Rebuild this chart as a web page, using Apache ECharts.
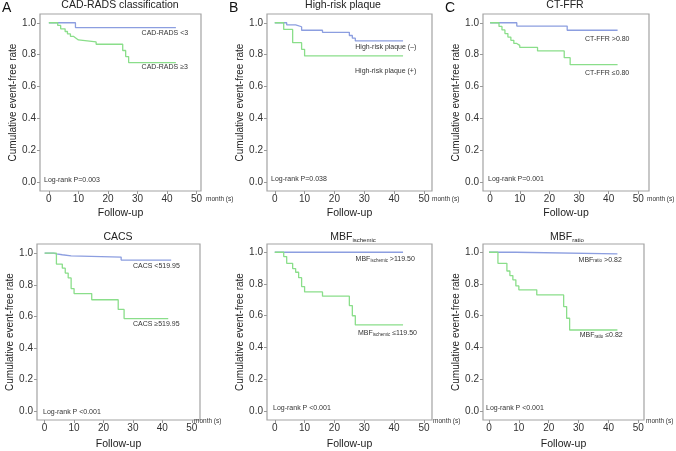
<!DOCTYPE html>
<html><head><meta charset="utf-8">
<script src="https://cdn.jsdelivr.net/npm/echarts@6/dist/echarts.min.js"></script>
<style>html,body{margin:0;padding:0;background:#fff}#c{width:676px;height:451px}</style>
</head><body><div id="c"></div><script>
// ---------- data ----------
const xTicks = [0, 10, 20, 30, 40, 50];
const yTicks = [0, 0.2, 0.4, 0.6, 0.8, 1.0];
const panelLetters = ['A', 'B', 'C'];
const panelTitles = ['CAD-RADS classification', 'High-risk plaque', 'CT-FFR', 'CACS', '{m|MBF}{s|ischemic}', '{m|MBF}{s|ratio}'];
const pValues = ['Log-rank P=0.003', 'Log-rank P=0.038', 'Log-rank P=0.001', 'Log-rank P <0.001', 'Log-rank P <0.001', 'Log-rank P <0.001'];
const lowLabels = ['CAD-RADS <3', 'High-risk plaque (–)', 'CT-FFR >0.80', 'CACS <519.95', '{m|MBF}{s|ischemic}{m| >119.50}', '{m|MBF}{s|ratio}{m| >0.82}'];
const highLabels = ['CAD-RADS ≥3', 'High-risk plaque (+)', 'CT-FFR ≤0.80', 'CACS ≥519.95', '{m|MBF}{s|ischemic}{m| ≤119.50}', '{m|MBF}{s|ratio}{m| ≤0.82}'];

// A: CAD-RADS
const aLowT = [0, 9, 43];
const aLowS = [1, 0.97, 0.97];
const aHighT = [0, 3, 4, 5.5, 6.3, 7.3, 8.3, 9.2, 10, 16, 25, 26, 27, 43];
const aHighS = [1, 0.983, 0.962, 0.945, 0.93, 0.915, 0.903, 0.892, 0.88, 0.865, 0.826, 0.788, 0.75, 0.75];
// B: High-risk plaque
const bLowT = [0, 4, 7, 9, 16, 25, 26, 27, 43];
const bLowS = [1, 0.987, 0.975, 0.953, 0.94, 0.92, 0.903, 0.886, 0.886];
const bHighT = [0, 3, 6, 9, 10, 43];
const bHighS = [1, 0.958, 0.875, 0.833, 0.792, 0.792];
// C: CT-FFR
const cLowT = [0, 9, 26, 43];
const cLowS = [1, 0.979, 0.953, 0.953];
const cHighT = [0, 3, 4, 5, 6, 7, 8, 9, 10, 16, 25, 27, 43];
const cHighS = [1, 0.977, 0.955, 0.932, 0.91, 0.89, 0.87, 0.858, 0.845, 0.823, 0.781, 0.737, 0.737];
// D: CACS
const dLowT = [0, 3, 4, 6, 9, 26, 43];
const dLowS = [1, 0.996, 0.99, 0.983, 0.975, 0.956, 0.956];
const dHighT = [0, 4, 6, 7, 8, 9, 10, 16, 25, 27, 42];
const dHighS = [1, 0.931, 0.905, 0.874, 0.843, 0.776, 0.744, 0.705, 0.644, 0.586, 0.586];
// E: MBF ischemic
const eLowT = [0, 43];
const eLowS = [1, 1];
const eHighT = [0, 3, 4, 6, 7, 8, 9, 10, 16, 25, 26, 27, 43];
const eHighS = [1, 0.973, 0.93, 0.897, 0.874, 0.84, 0.784, 0.75, 0.723, 0.664, 0.60, 0.542, 0.542];
// F: MBF ratio
const fLowT = [0, 9, 43];
const fLowS = [1, 0.99, 0.99];
const fHighT = [0, 3, 6, 7, 8, 9, 10, 16, 25, 26, 27, 43];
const fHighS = [1, 0.93, 0.882, 0.853, 0.826, 0.788, 0.763, 0.731, 0.658, 0.584, 0.51, 0.51];

const lowSeries = [[aLowT, aLowS], [bLowT, bLowS], [cLowT, cLowS], [dLowT, dLowS], [eLowT, eLowS], [fLowT, fLowS]];
const highSeries = [[aHighT, aHighS], [bHighT, bHighS], [cHighT, cHighS], [dHighT, dHighS], [eHighT, eHighS], [fHighT, fHighS]];

// ---------- layout ----------
const FONT = "'Liberation Sans', Arial, Helvetica, sans-serif";
const TXT = '#333';
const BLUE = '#8c9ee0';
const GREEN = '#8ade8a';
const layout = [
  {left: 40, top: 14, width: 161, height: 177, xr: [-3.0, 51.5], yr: [-0.056, 1.055], lowAt: [31.4, 0.937], highAt: [31.4, 0.72], tx: 120, ty: 0, px: 44, py: 177, mx: 206, my: 196},
  {left: 267, top: 14, width: 165, height: 177, xr: [-2.6, 52.7], yr: [-0.056, 1.055], lowAt: [27.0, 0.845], highAt: [26.9, 0.694], tx: 343, ty: 0, px: 271, py: 176, mx: 432, my: 196},
  {left: 483, top: 14, width: 166, height: 177, xr: [-2.4, 53.6], yr: [-0.056, 1.055], lowAt: [32.0, 0.897], highAt: [32.0, 0.684], tx: 565, ty: 0, px: 488, py: 176, mx: 647, my: 196},
  {left: 37, top: 244, width: 163, height: 177, xr: [-2.6, 52.8], yr: [-0.056, 1.058], lowAt: [30.0, 0.916], highAt: [30.0, 0.549], tx: 118, ty: 232, px: 43, py: 409, mx: 194, my: 418},
  {left: 267, top: 244, width: 165, height: 176, xr: [-2.6, 52.7], yr: [-0.057, 1.052], lowAt: [27.1, 0.958], highAt: [27.9, 0.49], tx: 353, ty: 232, px: 273, py: 405, mx: 433, my: 418},
  {left: 483, top: 244, width: 161, height: 176, xr: [-2.0, 51.9], yr: [-0.057, 1.052], lowAt: [30.0, 0.953], highAt: [30.4, 0.48], tx: 567, ty: 232, px: 486, py: 405, mx: 646, my: 418}
];
const letterPos = [[2, 1], [229, 1], [445, 1]];

const rich = {
  m: {fontSize: 7, fontFamily: FONT, color: TXT},
  s: {fontSize: 4.5, fontFamily: FONT, color: TXT, verticalAlign: 'bottom', padding: [3, 0, 0, 0]}
};
const richTitle = {
  m: {fontSize: 10.5, fontFamily: FONT, color: '#222'},
  s: {fontSize: 6, fontFamily: FONT, color: '#222', verticalAlign: 'bottom', padding: [5, 0, 0, 0]}
};

const grids = [], xAxes = [], yAxes = [], series = [], titles = [];
layout.forEach((L, i) => {
  grids.push({left: L.left, top: L.top, width: L.width, height: L.height, show: true, borderColor: '#a3a3a3', borderWidth: 1.2, backgroundColor: '#fff'});
  xAxes.push({
    type: 'value', gridIndex: i, min: L.xr[0], max: L.xr[1],
    name: 'Follow-up', nameLocation: 'middle', nameGap: i < 3 ? 17 : 19,
    nameTextStyle: {fontSize: 10.5, fontFamily: FONT, color: '#222'},
    axisLine: {show: false, onZero: false},
    axisTick: {show: true, length: 3, customValues: xTicks, lineStyle: {color: '#999'}},
    axisLabel: {customValues: xTicks, fontSize: 10, fontFamily: FONT, color: TXT, margin: 3},
    splitLine: {show: false}
  });
  yAxes.push({
    type: 'value', gridIndex: i, min: L.yr[0], max: L.yr[1],
    name: 'Cumulative event-free rate', nameLocation: 'middle', nameGap: 21,
    nameTextStyle: {fontSize: 10, fontFamily: FONT, color: '#222'},
    axisLine: {show: false, onZero: false},
    axisTick: {show: true, length: 3, customValues: yTicks, lineStyle: {color: '#999'}},
    axisLabel: {customValues: yTicks, fontSize: 10, fontFamily: FONT, color: TXT, margin: 4, formatter: v => v.toFixed(1)},
    splitLine: {show: false}
  });
  const mk = (pair, color, at, text) => ({
    type: 'line', xAxisIndex: i, yAxisIndex: i, step: 'end', symbol: 'none',
    lineStyle: {color: color, width: 1.3}, silent: true,
    data: pair[0].map((t, k) => [t, pair[1][k]]),
    markPoint: {
      symbol: 'circle', symbolSize: 0, silent: true,
      data: [{coord: at, label: {show: true, position: 'inside', align: 'left', verticalAlign: 'middle', formatter: text, rich: rich, fontSize: 7, fontFamily: FONT, color: TXT}}]
    }
  });
  series.push(mk(lowSeries[i], BLUE, L.lowAt, lowLabels[i]));
  series.push(mk(highSeries[i], GREEN, L.highAt, highLabels[i]));
  titles.push({text: panelTitles[i], left: L.tx, top: L.ty, textAlign: 'center', padding: 0,
    textStyle: {fontSize: 10.5, fontWeight: 'normal', fontFamily: FONT, color: '#222', rich: richTitle}});
  titles.push({text: pValues[i], left: L.px, top: L.py, padding: 0,
    textStyle: {fontSize: 7, fontWeight: 'normal', fontFamily: FONT, color: TXT}});
  titles.push({text: 'month (s)', left: L.mx, top: L.my, padding: 0,
    textStyle: {fontSize: 6.5, fontWeight: 'normal', fontFamily: FONT, color: TXT}});
});
panelLetters.forEach((t, i) => titles.push({text: t, left: letterPos[i][0], top: letterPos[i][1], padding: 0,
  textStyle: {fontSize: 14, fontWeight: 'normal', fontFamily: FONT, color: '#111'}}));

const chart = echarts.init(document.getElementById('c'), null, {renderer: 'canvas'});
chart.setOption({animation: false, backgroundColor: '#fff', title: titles, grid: grids, xAxis: xAxes, yAxis: yAxes, series: series});
</script></body></html>
